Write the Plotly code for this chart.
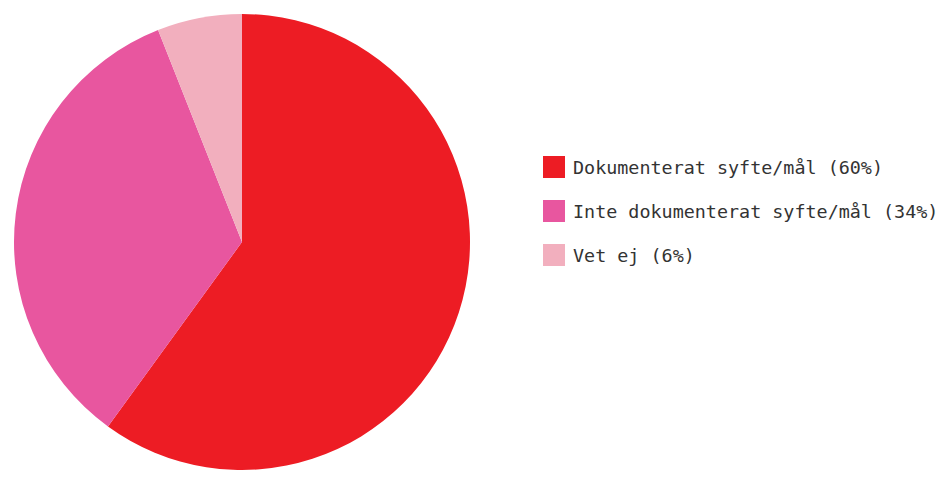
import plotly.graph_objects as go

# chart data
labels = ["Dokumenterat syfte/mål", "Inte dokumenterat syfte/mål", "Vet ej"]
shares = [60, 34, 6]
colors = ["#ED1C24", "#E8569F", "#F2AFBE"]

# the page puts the plot 8px in from the top-left corner
OX, OY = 8, 8
W, H = 952 - OX, 497 - OY


def px(x):
    return (x - OX) / W


def py(y):
    return 1 - (y - OY) / H


fig = go.Figure()
fig.add_trace(go.Pie(
    labels=labels, values=shares,
    sort=False, direction="clockwise", rotation=0,
    marker=dict(colors=colors, line=dict(width=0)),
    textinfo="none", hoverinfo="label+percent",
    showlegend=False,
    domain=dict(x=[px(14), px(470)], y=[py(470), py(14)]),
))

# hand-made legend: coloured square + monospace label
row_y = [167, 211, 255]
for lab, val, col, y in zip(labels, shares, colors, row_y):
    fig.add_shape(
        type="rect", xref="paper", yref="paper",
        x0=px(543), x1=px(565), y0=py(y + 11), y1=py(y - 11),
        fillcolor=col, line=dict(width=0),
    )
    fig.add_annotation(
        x=px(571), y=py(y), xref="paper", yref="paper",
        xanchor="left", yanchor="middle", showarrow=False,
        text=f"{lab} ({val}%)",
        font=dict(family="DejaVu Sans Mono", size=18.4, color="#333333"),
    )

fig.update_layout(
    width=W, height=H,
    margin=dict(l=0, r=0, t=0, b=0),
    paper_bgcolor="white", plot_bgcolor="white",
)

fig.write_html("out.html")
